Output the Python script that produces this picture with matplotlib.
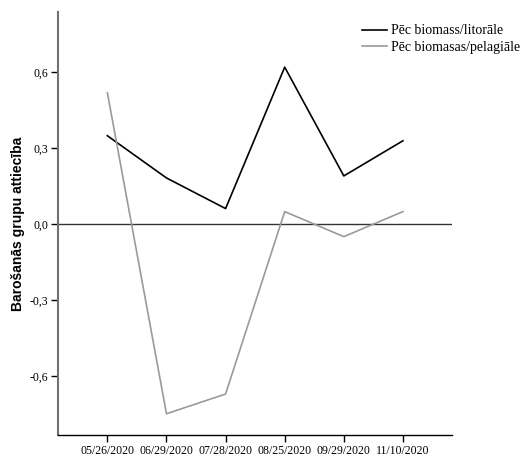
import matplotlib.pyplot as plt

# Data
dates = ['05/26/2020', '06/29/2020', '07/28/2020', '08/25/2020', '09/29/2020', '11/10/2020']
litorale = [0.35, 0.183, 0.062, 0.621, 0.191, 0.330]
pelagiale = [0.52, -0.749, -0.671, 0.050, -0.049, 0.050]
yticks = [-0.6, -0.3, 0.0, 0.3, 0.6]
ytick_labels = ['-0,6', '-0,3', '0,0', '0,3', '0,6']

plt.rcParams['font.family'] = ['Liberation Serif', 'DejaVu Serif']

fig = plt.figure(figsize=(5.23, 4.57), dpi=100)
ax = fig.add_axes([58 / 523, 1 - 435 / 457, (452 - 58) / 523, (435 - 12.5) / 457])

x = list(range(1, len(dates) + 1))
ax.plot(x, litorale, color='black', lw=1.2, label='Pēc biomass/litorāle')
ax.plot(x, pelagiale, color='#9a9a9a', lw=1.2, label='Pēc biomasas/pelagiāle')
ax.axhline(0, color='#333333', lw=1.0, zorder=1)

ax.set_xlim(0.165, 6.83)
ax.set_ylim(-0.833, 0.837)
ax.set_xticks(x)
ax.set_xticklabels(dates, fontsize=8.5)
ax.set_yticks(yticks)
ax.set_yticklabels(ytick_labels, fontsize=8.5)
ax.tick_params(axis='both', length=5, width=1, color='black', pad=2)

ax.spines['top'].set_visible(False)
ax.spines['right'].set_visible(False)
ax.spines['left'].set_color('#707070')
ax.spines['left'].set_linewidth(1.5)
ax.spines['bottom'].set_linewidth(1.0)

ax.set_ylabel('Barošanās grupu attiecība', family=['Liberation Sans', 'DejaVu Sans'],
              fontweight='bold', fontsize=10, labelpad=3)

leg = ax.legend(loc='upper left', bbox_to_anchor=(0.758, 0.985), frameon=False,
                prop={'size': 10}, handlelength=1.8,
                handletextpad=0.25, labelspacing=0.25, borderaxespad=0)

fig.savefig('out.png', dpi=100)
